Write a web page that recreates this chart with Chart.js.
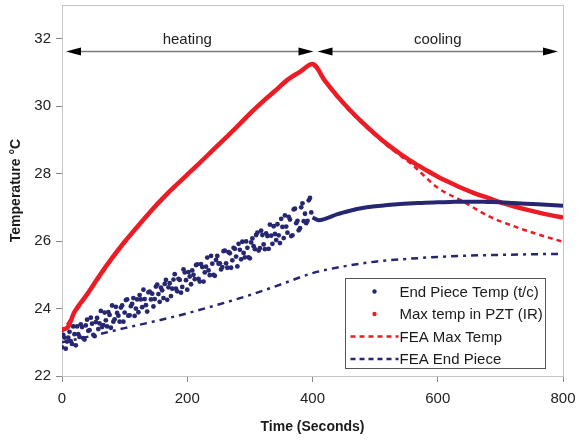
<!DOCTYPE html>
<html>
<head>
<meta charset="utf-8">
<title>Temperature vs Time</title>
<script src="https://cdn.jsdelivr.net/npm/chart.js@4.4.1/dist/chart.umd.min.js"></script>
<style>
  html, body { margin: 0; padding: 0; background: #fff; }
  #wrap { width: 580px; height: 440px; }
</style>
</head>
<body>
<div id="wrap"><canvas id="tempChart" width="580" height="440"></canvas></div>
<script>
// axis ticks
const xTicks = [0, 200, 400, 600, 800];
const yTicks = [22, 24, 26, 28, 30, 32];

// End piece thermocouple, heating phase: two interleaved sample runs, every 4 s
const endHeatStep = 4;
const endHeatStartA = 0;
const endHeatTempsA = [
  22.85, 23.14, 23.02, 23.31, 22.95, 23.24, 23.47, 23.16, 23.45, 23.08,
  23.67, 23.36, 23.55, 23.18, 23.72, 23.56, 23.45, 23.88, 23.47, 23.81,
  24.09, 23.68, 23.87, 23.61, 24.09, 23.88, 24.27, 23.80, 24.14, 23.78,
  24.27, 24.40, 24.04, 24.28, 23.91, 24.50, 24.44, 24.28, 24.71, 24.20,
  24.54, 24.73, 24.26, 24.75, 24.59, 25.02, 24.51, 24.85, 24.64, 25.07,
  24.56, 24.95, 25.13, 24.87, 25.31, 24.80, 25.23, 25.07, 25.51, 24.99,
  25.33, 24.97, 25.56, 25.34, 25.23, 25.72, 25.21, 25.64, 25.43, 25.77,
  25.25, 25.74, 25.98, 25.52, 25.80, 25.49, 26.08, 25.76, 26.25, 25.79,
  26.18, 25.76, 26.15, 26.49, 25.92, 26.21, 26.50, 25.94, 26.42, 26.76,
  26.25, 26.64, 26.17, 26.96, 26.60, 26.38, 27.12, 26.81, 26.60, 27.28
];
const endHeatStartB = 2;
const endHeatTempsB = [
  23.22, 22.81, 23.14, 23.03, 23.47, 22.91, 23.24, 23.53, 23.12, 23.50,
  23.34, 23.73, 23.22, 23.60, 23.39, 23.93, 23.51, 23.65, 23.89, 23.43,
  23.61, 24.05, 23.79, 24.03, 23.61, 24.25, 23.79, 24.07, 24.31, 24.00,
  23.89, 24.27, 24.56, 24.10, 24.48, 24.27, 24.06, 24.65, 24.43, 24.62,
  24.31, 24.85, 24.63, 24.37, 24.86, 24.59, 24.88, 24.47, 25.16, 24.84,
  25.08, 24.72, 25.00, 25.29, 24.88, 25.32, 24.80, 25.24, 25.13, 25.56,
  25.00, 25.44, 25.33, 25.16, 25.70, 25.34, 25.67, 25.21, 25.80, 25.54,
  25.92, 25.46, 25.65, 25.99, 25.52, 25.96, 25.85, 26.18, 25.72, 26.31,
  25.90, 26.23, 25.77, 26.16, 26.44, 26.03, 26.17, 26.66, 26.09, 26.43,
  26.72, 26.15, 26.94, 26.53, 26.32, 27.00, 26.59, 26.53, 27.21, 26.85
];

// End piece thermocouple, cooling phase
const endCoolTimes = [400, 410, 420, 440, 460, 480, 500, 520, 540, 560, 580, 600, 620, 640, 660, 680, 700, 720, 740, 760, 780, 800];
const endCoolTemps = [26.70, 26.62, 26.66, 26.80, 26.90, 26.98, 27.03, 27.07, 27.10, 27.12, 27.14, 27.15, 27.16, 27.17, 27.17, 27.16, 27.15, 27.13, 27.11, 27.09, 27.07, 27.05];

// Max temp in PZT (IR)
const maxIrTimes = [0, 8, 20, 40, 60, 80, 100, 120, 140, 160, 180, 200, 220, 240, 260, 280, 300, 320, 340, 360, 380, 400,
  420, 440, 460, 480, 500, 520, 540, 560, 580, 600, 620, 640, 660, 680, 700, 720, 740, 760, 780, 800];
const maxIrTemps = [23.38, 23.42, 23.90, 24.42, 24.98, 25.50, 25.98, 26.42, 26.85, 27.25, 27.62, 27.97, 28.32, 28.68, 29.04, 29.40, 29.78, 30.13, 30.45, 30.78, 31.02, 31.25,
  30.75, 30.29, 29.88, 29.51, 29.17, 28.86, 28.59, 28.34, 28.12, 27.91, 27.73, 27.56, 27.41, 27.28, 27.15, 27.04, 26.94, 26.85, 26.77, 26.70];

// FEA Max Temp
const feaMaxTimes = [0, 20, 40, 80, 120, 160, 200, 240, 280, 320, 360, 400, 420, 440, 480, 520, 560, 600, 640, 680, 720, 760, 800];
const feaMaxTemps = [23.30, 23.85, 24.38, 25.45, 26.40, 27.22, 27.95, 28.66, 29.38, 30.10, 30.75, 31.20, 30.72, 30.25, 29.48, 28.82, 28.25, 27.58, 27.18, 26.75, 26.45, 26.20, 25.98];

// FEA End Piece
const feaEndTimes = [0, 50, 100, 150, 200, 250, 300, 350, 400, 450, 500, 550, 600, 650, 700, 750, 800];
const feaEndTemps = [23.00, 23.20, 23.42, 23.63, 23.86, 24.12, 24.40, 24.72, 25.05, 25.25, 25.39, 25.47, 25.53, 25.57, 25.59, 25.61, 25.62];

// phase annotations
const phases = [
  { label: 'heating', from: 0, to: 400 },
  { label: 'cooling', from: 400, to: 800 }
];
const phaseArrowTemp = 31.65;

const RED = '#ec1c24';
const NAVY = '#262671';
const FONT = '"Liberation Sans", Arial, sans-serif';

function pairs(xs, ys) {
  return ys.map((y, i) => ({ x: xs[i], y: y }));
}
function sampled(start, step, ys) {
  return ys.map((y, i) => ({ x: start + i * step, y: y }));
}

const legendItems = [
  { label: 'End Piece Temp (t/c)', color: NAVY, kind: 'dot' },
  { label: 'Max temp in PZT (IR)', color: RED, kind: 'dot' },
  { label: 'FEA Max Temp', color: RED, kind: 'dash' },
  { label: 'FEA End Piece', color: NAVY, kind: 'dash' }
];

// frame round the plot area
const framePlugin = {
  id: 'frame',
  beforeDatasetsDraw(chart) {
    const { ctx, chartArea: a } = chart;
    ctx.save();
    ctx.strokeStyle = '#c4c4c4';
    ctx.lineWidth = 1;
    ctx.strokeRect(a.left + 0.5, a.top + 0.5, a.right - a.left, a.bottom - a.top);
    ctx.restore();
  }
};

// heating / cooling arrows
const phasePlugin = {
  id: 'phases',
  afterDatasetsDraw(chart) {
    const { ctx, scales } = chart;
    const xs = scales.x, ys = scales.y;
    const y = Math.round(ys.getPixelForValue(phaseArrowTemp)) + 0.5;
    ctx.save();
    phases.forEach(p => {
      const x1 = xs.getPixelForValue(p.from) + (p.from === 0 ? 4 : 5);
      const x2 = xs.getPixelForValue(p.to) - (p.to === 800 ? 5 : -1);
      ctx.strokeStyle = '#7a7a7a';
      ctx.lineWidth = 1.5;
      ctx.beginPath();
      ctx.moveTo(x1 + 10, y);
      ctx.lineTo(x2 - 10, y);
      ctx.stroke();
      ctx.fillStyle = '#000';
      ctx.beginPath();
      ctx.moveTo(x1, y); ctx.lineTo(x1 + 15, y - 4); ctx.lineTo(x1 + 15, y + 4); ctx.closePath();
      ctx.fill();
      ctx.beginPath();
      ctx.moveTo(x2, y); ctx.lineTo(x2 - 15, y - 4); ctx.lineTo(x2 - 15, y + 4); ctx.closePath();
      ctx.fill();
      ctx.fillStyle = '#222';
      ctx.font = '15px ' + FONT;
      ctx.textAlign = 'center';
      ctx.textBaseline = 'middle';
      ctx.fillText(p.label, xs.getPixelForValue((p.from + p.to) / 2), y - 12);
    });
    ctx.restore();
  }
};

// boxed legend in the lower right of the plot
const legendPlugin = {
  id: 'boxLegend',
  afterDraw(chart) {
    const { ctx, chartArea: a } = chart;
    const w = 200, h = 90;
    const left = Math.round(a.right - 18 - w) + 0.5;
    const top = Math.round(a.bottom - 8 - h) + 0.5;
    ctx.save();
    ctx.fillStyle = '#fff';
    ctx.fillRect(left, top, w, h);
    ctx.strokeStyle = '#555';
    ctx.lineWidth = 1;
    ctx.strokeRect(left, top, w, h);
    ctx.font = '15px ' + FONT;
    ctx.textBaseline = 'middle';
    ctx.textAlign = 'left';
    legendItems.forEach((item, i) => {
      const cy = top + 13 + i * 22.5;
      if (item.kind === 'dot') {
        ctx.fillStyle = item.color;
        ctx.beginPath();
        ctx.arc(left + 29, cy, 2.2, 0, Math.PI * 2);
        ctx.fill();
      } else {
        ctx.strokeStyle = item.color;
        ctx.lineWidth = 2.5;
        ctx.setLineDash([5, 4]);
        ctx.beginPath();
        ctx.moveTo(left + 5, cy);
        ctx.lineTo(left + 53, cy);
        ctx.stroke();
        ctx.setLineDash([]);
      }
      ctx.fillStyle = '#1a1a1a';
      ctx.fillText(item.label, left + 54, cy + 1);
    });
    ctx.restore();
  }
};

const dotStyle = {
  showLine: false,
  pointRadius: 2.4,
  pointBorderWidth: 0,
  pointBackgroundColor: NAVY
};

new Chart(document.getElementById('tempChart'), {
  type: 'scatter',
  data: {
    datasets: [
      Object.assign({ label: 'End Piece Temp (t/c)', data: sampled(endHeatStartA, endHeatStep, endHeatTempsA) }, dotStyle),
      Object.assign({ label: 'End Piece Temp (t/c) b', data: sampled(endHeatStartB, endHeatStep, endHeatTempsB) }, dotStyle),
      {
        label: 'End Piece Temp (t/c) cooling',
        data: pairs(endCoolTimes, endCoolTemps),
        showLine: true,
        borderColor: NAVY,
        borderWidth: 4,
        pointRadius: 0,
        cubicInterpolationMode: 'monotone'
      },
      {
        label: 'Max temp in PZT (IR)',
        data: pairs(maxIrTimes, maxIrTemps),
        showLine: true,
        borderColor: RED,
        borderWidth: 4.5,
        pointRadius: 0,
        cubicInterpolationMode: 'monotone'
      },
      {
        label: 'FEA Max Temp',
        data: pairs(feaMaxTimes, feaMaxTemps),
        showLine: true,
        borderColor: RED,
        borderWidth: 2.5,
        borderDash: [5, 4],
        pointRadius: 0,
        cubicInterpolationMode: 'monotone'
      },
      {
        label: 'FEA End Piece',
        data: pairs(feaEndTimes, feaEndTemps),
        showLine: true,
        borderColor: NAVY,
        borderWidth: 2.5,
        borderDash: [7, 5, 3, 5],
        pointRadius: 0,
        cubicInterpolationMode: 'monotone'
      }
    ]
  },
  options: {
    responsive: false,
    animation: false,
    layout: { padding: { top: 5, right: 17, left: 0, bottom: 0 } },
    plugins: {
      legend: { display: false },
      tooltip: { enabled: false }
    },
    scales: {
      x: {
        type: 'linear',
        min: 0,
        max: 800,
        afterBuildTicks: s => { s.ticks = xTicks.map(v => ({ value: v })); },
        afterFit: s => { s.height = 64; s.paddingLeft = 0; s.paddingRight = 0; },
        grid: { display: true, drawOnChartArea: false, drawTicks: true, tickLength: 6, color: '#888' },
        border: { display: true, color: '#999' },
        ticks: { color: '#222', font: { family: FONT, size: 15 }, padding: 8, maxRotation: 0 },
        title: {
          display: true,
          text: 'Time (Seconds)',
          color: '#1a1a1a',
          font: { family: FONT, size: 14, weight: 'bold' },
          padding: { top: 4, bottom: 4 }
        }
      },
      y: {
        type: 'linear',
        min: 22,
        max: 33,
        afterBuildTicks: s => { s.ticks = yTicks.map(v => ({ value: v })); },
        afterFit: s => { s.width = 62; s.paddingTop = 0; s.paddingBottom = 0; },
        grid: { display: true, drawOnChartArea: false, drawTicks: true, tickLength: 6, color: '#888' },
        border: { display: true, color: '#999' },
        ticks: { color: '#222', font: { family: FONT, size: 15 }, padding: 5 },
        title: {
          display: true,
          text: 'Temperature °C',
          color: '#1a1a1a',
          font: { family: FONT, size: 14, weight: 'bold' },
          padding: { top: 8, bottom: 4 }
        }
      }
    }
  },
  plugins: [framePlugin, phasePlugin, legendPlugin]
});
</script>
</body>
</html>
